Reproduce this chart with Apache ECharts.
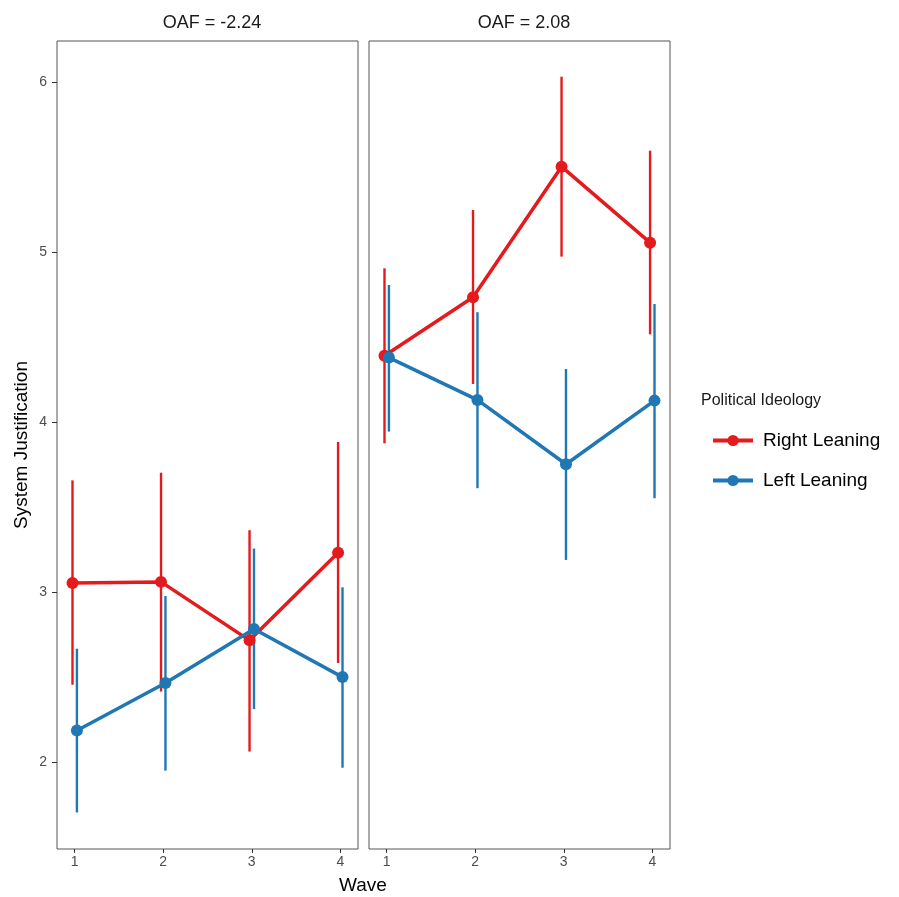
<!DOCTYPE html>
<html>
<head>
<meta charset="utf-8">
<script src="https://cdn.jsdelivr.net/npm/echarts@6/dist/echarts.min.js"></script>
<style>html,body{margin:0;padding:0;background:#fff}#c{width:899px;height:897px}</style>
</head>
<body>
<div id="c"></div>
<script>
var waves = [1, 2, 3, 4];
var panelTitles = ['OAF = -2.24', 'OAF = 2.08'];
var groupNames = ['Right Leaning', 'Left Leaning'];
var groupColors = ['#E41A1C', '#1F78B4'];
var yTicks = [2, 3, 4, 5, 6];

// Panel 1: OAF = -2.24
var rightMeanLow  = [3.057, 3.063, 2.719, 3.234];
var rightLowerLow = [2.458, 2.418, 2.065, 2.586];
var rightUpperLow = [3.660, 3.705, 3.367, 3.886];
var leftMeanLow   = [2.189, 2.468, 2.786, 2.503];
var leftLowerLow  = [1.707, 1.953, 2.315, 1.970];
var leftUpperLow  = [2.670, 2.980, 3.259, 3.031];
// Panel 2: OAF = 2.08
var rightMeanHigh  = [4.393, 4.737, 5.505, 5.058];
var rightLowerHigh = [3.878, 4.227, 4.976, 4.519];
var rightUpperHigh = [4.907, 5.250, 6.034, 5.599];
var leftMeanHigh   = [4.382, 4.133, 3.755, 4.129];
var leftLowerHigh  = [3.947, 3.614, 3.192, 3.555];
var leftUpperHigh  = [4.809, 4.649, 4.315, 4.697];

var dodge = [-0.025, 0.025];
var FONT = 'Liberation Sans, Arial, sans-serif';

var panels = [
  [[rightMeanLow, rightLowerLow, rightUpperLow], [leftMeanLow, leftLowerLow, leftUpperLow]],
  [[rightMeanHigh, rightLowerHigh, rightUpperHigh], [leftMeanHigh, leftLowerHigh, leftUpperHigh]]
];

var grids = [
  {left: 57, top: 41, width: 301, height: 808, show: true, borderColor: '#555', borderWidth: 1, backgroundColor: '#fff', outerBoundsMode: 'none', containLabel: false},
  {left: 369, top: 41, width: 301, height: 808, show: true, borderColor: '#555', borderWidth: 1, backgroundColor: '#fff', outerBoundsMode: 'none', containLabel: false}
];

var xAxes = [], yAxes = [], series = [];
for (var p = 0; p < 2; p++) {
  xAxes.push({
    type: 'value', gridIndex: p, min: 0.8, max: 4.2,
    axisLine: {show: false},
    axisTick: {show: true, length: 4, customValues: waves, lineStyle: {color: '#333', width: 1}},
    axisLabel: {customValues: waves, fontFamily: FONT, fontSize: 14, color: '#4d4d4d', margin: 6},
    splitLine: {show: false}
  });
  yAxes.push({
    type: 'value', gridIndex: p, min: 1.492, max: 6.244,
    axisLine: {show: false},
    axisTick: {show: p === 0, length: 5, customValues: yTicks, lineStyle: {color: '#333', width: 1}},
    axisLabel: {show: p === 0, customValues: yTicks, fontFamily: FONT, fontSize: 14, color: '#4d4d4d', margin: 10},
    splitLine: {show: false}
  });
  for (var g = 0; g < 2; g++) {
    (function (p, g) {
      var d = panels[p][g];
      var ebData = waves.map(function (w, i) { return [w + dodge[g], d[1][i], d[2][i]]; });
      series.push({
        type: 'custom', xAxisIndex: p, yAxisIndex: p, z: 2, silent: true,
        data: ebData,
        renderItem: function (params, api) {
          var a = api.coord([api.value(0), api.value(1)]);
          var b = api.coord([api.value(0), api.value(2)]);
          return {type: 'line', shape: {x1: a[0], y1: a[1], x2: b[0], y2: b[1]},
                  style: {stroke: groupColors[g], lineWidth: 2.4}};
        }
      });
    })(p, g);
  }
  for (var g2 = 0; g2 < 2; g2++) {
    var d2 = panels[p][g2];
    series.push({
      type: 'line', name: groupNames[g2], xAxisIndex: p, yAxisIndex: p, z: 3 + g2,
      data: waves.map(function (w, i) { return [w + dodge[g2], d2[0][i]]; }),
      symbol: 'circle', symbolSize: 12, showSymbol: true,
      lineStyle: {color: groupColors[g2], width: 3.5},
      itemStyle: {color: groupColors[g2]},
      emphasis: {disabled: true}, animation: false
    });
  }
}

var chart = echarts.init(document.getElementById('c'));
chart.setOption({
  animation: false,
  backgroundColor: '#fff',
  grid: grids,
  xAxis: xAxes,
  yAxis: yAxes,
  series: series,
  title: [
    {text: panelTitles[0], left: 207, top: 9, textAlign: 'center', textStyle: {fontFamily: FONT, fontSize: 18, fontWeight: 'normal', color: '#1a1a1a'}},
    {text: panelTitles[1], left: 519, top: 9, textAlign: 'center', textStyle: {fontFamily: FONT, fontSize: 18, fontWeight: 'normal', color: '#1a1a1a'}}
  ],
  legend: {
    orient: 'vertical', left: 706, top: 426,
    data: groupNames, itemWidth: 40, itemHeight: 14, itemGap: 21,
    lineStyle: {width: 4},
    itemStyle: {},
    textStyle: {fontFamily: FONT, fontSize: 19, color: '#000', padding: [0, 0, 0, 5]},
    selectedMode: false
  },
  graphic: [
    {type: 'text', left: 701, top: 393, style: {text: 'Political Ideology', font: '16px ' + FONT, fill: '#1a1a1a'}},
    {type: 'text', x: 22, y: 445, rotation: Math.PI / 2, style: {text: 'System Justification', font: '19px ' + FONT, fill: '#000', align: 'center', verticalAlign: 'middle'}},
    {type: 'text', x: 363, y: 886, style: {text: 'Wave', font: '19px ' + FONT, fill: '#000', align: 'center', verticalAlign: 'middle'}}
  ]
});
</script>
</body>
</html>
